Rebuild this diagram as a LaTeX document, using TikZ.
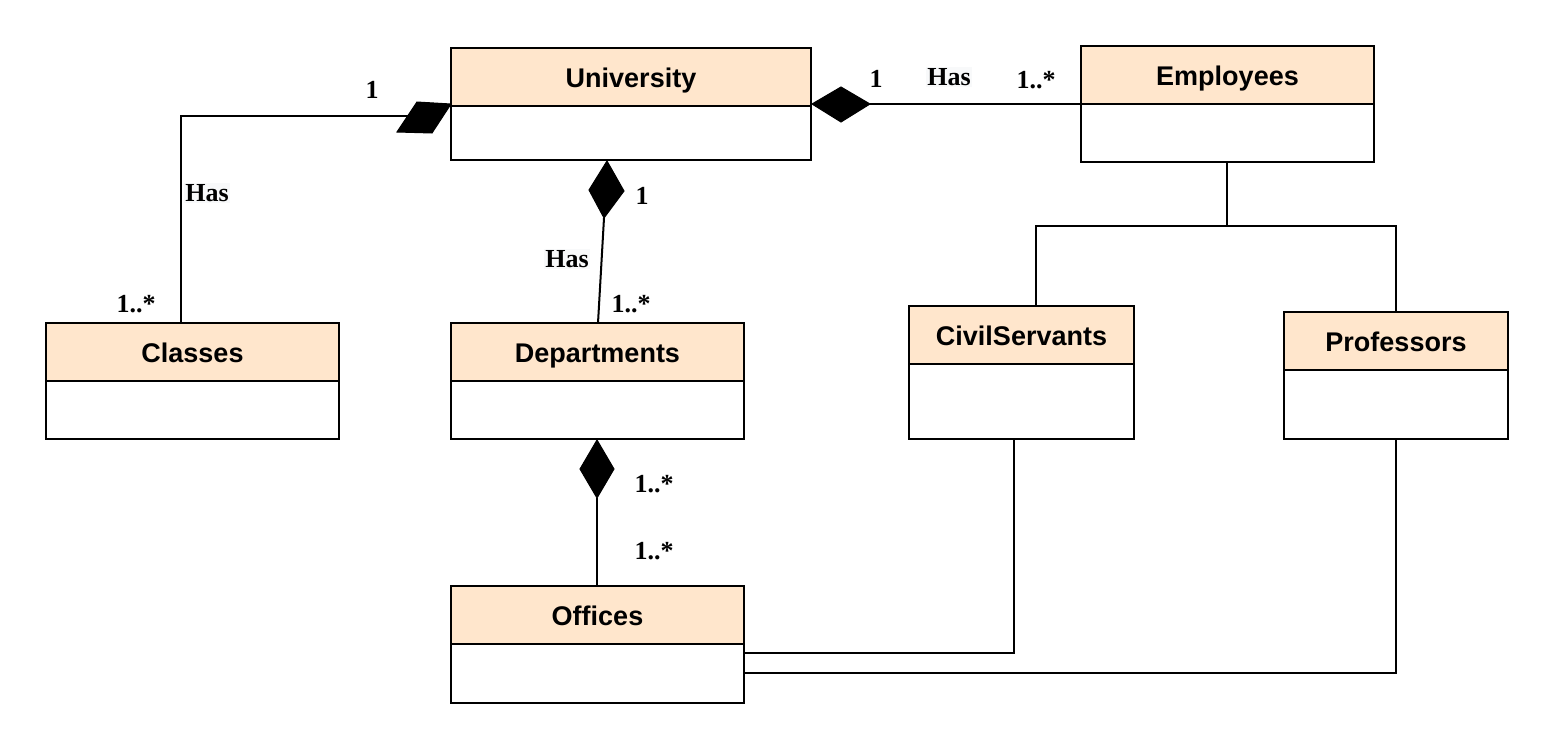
\documentclass[tikz,border=0pt]{standalone}
\usepackage{fontspec}
\setmainfont{Liberation Serif}
\newfontfamily\clsfont{Liberation Sans}
\usetikzlibrary{calc}
\definecolor{hdrfill}{HTML}{FFE6CC}
\definecolor{lblbg}{HTML}{F8F9FA}
\tikzset{
  hdr/.style={draw=black, line width=2pt, fill=hdrfill, anchor=north west, inner sep=0pt, outer sep=0pt,
    minimum height=58pt, text depth=0pt, font=\clsfont\bfseries\fontsize{27}{31}\selectfont},
  bodybox/.style={draw=black, line width=2pt, fill=white, anchor=north west, inner sep=0pt, outer sep=0pt},
  conn/.style={draw=black, line width=2pt},
  dia/.style={fill=black, draw=black, line width=1pt, line join=miter},
  lbl/.style={font=\bfseries\fontsize{26}{30}\selectfont, inner sep=1pt},
  haslbl/.style={lbl, fill=lblbg},
}
\newcommand\hdrtext[1]{\raisebox{-2pt}{#1}}
\begin{document}
\begin{tikzpicture}[x=1pt,y=-1pt]
\useasboundingbox (0,0) rectangle (1555,750);
% classes
\node[hdr, minimum width=360pt] (uni) at (451,48) {\hdrtext{University}};
\node[bodybox, minimum width=360pt, minimum height=54pt] (unib) at (uni.south west) {};
\node[hdr, minimum width=293pt] (emp) at (1081,46) {\hdrtext{Employees}};
\node[bodybox, minimum width=293pt, minimum height=58pt] (empb) at (emp.south west) {};
\node[hdr, minimum width=293pt] (cls) at (46,323) {\hdrtext{Classes}};
\node[bodybox, minimum width=293pt, minimum height=58pt] (clsb) at (cls.south west) {};
\node[hdr, minimum width=293pt] (dep) at (451,323) {\hdrtext{Departments}};
\node[bodybox, minimum width=293pt, minimum height=58pt] (depb) at (dep.south west) {};
\node[hdr, minimum width=225pt] (civ) at (909,306) {\hdrtext{CivilServants}};
\node[bodybox, minimum width=225pt, minimum height=75pt] (civb) at (civ.south west) {};
\node[hdr, minimum width=224pt] (prof) at (1284,312) {\hdrtext{Professors}};
\node[bodybox, minimum width=224pt, minimum height=69pt] (profb) at (prof.south west) {};
\node[hdr, minimum width=293pt] (off) at (451,586) {\hdrtext{Offices}};
\node[bodybox, minimum width=293pt, minimum height=59pt] (offb) at (off.south west) {};

% University -- Classes
\coordinate (ucA) at (451,104);
\coordinate (ucB) at (417,102);
\coordinate (ucC) at (397,132);
\coordinate (ucD) at (432,133);
\coordinate (ucE) at (181,116);
\coordinate (ucF) at (410,116);
\draw[conn] (cls.north -| ucE) -- (ucE) -- (ucF);
\fill[dia] (ucA) -- (ucB) -- (ucC) -- (ucD) -- cycle;
\node[lbl] (l1) at (372,90) {1};
\node[haslbl] (l2) at (207,193) {Has};
\node[lbl] (l3) at (136,304) {1..*};

% University -- Departments
\coordinate (udA) at (607,161);
\coordinate (udB) at (589,190);
\coordinate (udC) at (604,218);
\coordinate (udD) at (624,191);
\coordinate (udE) at (598,323);
\draw[conn] (udC) -- (udE);
\fill[dia] (udA) -- (udB) -- (udC) -- (udD) -- cycle;
\node[lbl] (l4) at (642,196) {1};
\node[haslbl] (l5) at (567,259) {Has};
\node[lbl] (l6) at (631,304) {1..*};

% University -- Employees
\coordinate (ueA) at (812,104);
\coordinate (ueB) at (841,87);
\coordinate (ueC) at (870,104);
\coordinate (ueD) at (841,122);
\draw[conn] (ueC) -- (emp.west |- ueC);
\fill[dia] (ueA) -- (ueB) -- (ueC) -- (ueD) -- cycle;
\node[lbl] (l7) at (876,79) {1};
\node[haslbl] (l8) at (949,77) {Has};
\node[lbl] (l9) at (1036,80) {1..*};

% Departments -- Offices
\coordinate (doA) at (597,440);
\coordinate (doB) at (580,469);
\coordinate (doC) at (597,498);
\coordinate (doD) at (614,469);
\draw[conn] (doC) -- (off.north -| doC);
\fill[dia] (doA) -- (doB) -- (doC) -- (doD) -- cycle;
\node[lbl] (l10) at (654,484) {1..*};
\node[lbl] (l11) at (654,551) {1..*};

% Employees hierarchy
\coordinate (hj) at (1227,226);
\draw[conn] (empb.south -| hj) -- (hj);
\draw[conn] (civ.north -| 1036,0) -- (1036,226) -- (1396,226) -- (prof.north -| 1396,0);

% CivilServants / Professors -- Offices
\draw[conn] (civb.south -| 1014,0) -- (1014,653) -- (offb.east |- 0,653);
\draw[conn] (profb.south -| 1396,0) -- (1396,673) -- (offb.east |- 0,673);
\end{tikzpicture}
\end{document}
